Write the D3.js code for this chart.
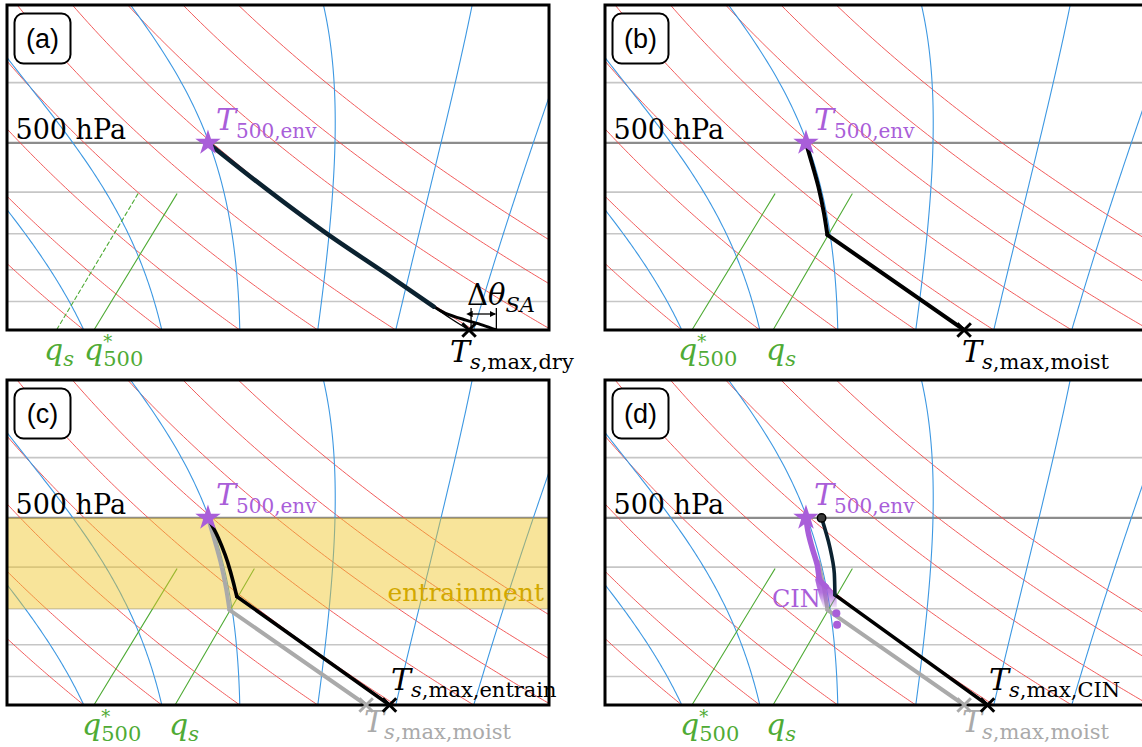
<!DOCTYPE html>
<html lang="en">
<head>
<meta charset="UTF-8">
<title>Skew-T schematic</title>
<style>
  body { margin: 0; background: #fff; }
</style>
</head>
<body>
<div id="chart"></div>
<script src="https://d3js.org/d3.v7.min.js"></script>
<script>
// ---- data (pressure in hPa, temperature in degC) ----
const isobars = [400, 500, 600, 700, 800, 900];
const dryTheta = [-10, 0, 10, 20, 30, 40, 50, 60, 70, 80];   // dry adiabats, T at 1000 hPa
const moistThetaW = [-10, 0, 10, 20, 30, 40, 50];           // moist adiabats, T at 1000 hPa

const qStar500 = [[604, -5.9], [1000, 1.3]];
const qsPanelA = [[604, -10.9], [1000, -3.5]];
const qsOther = [[604, 4.0], [1000, 11.7]];

const envT500 = [500, -8.6];

// (a) dry descent
const dryDescent = [[500, -8.6], [574, 2.3], [698, 18.3], [831, 33.4], [917, 41.8]];
const dryToX = [[917, 41.8], [960, 45.7], [1000, 49.4]];
const surfaceLayer = [[917, 41.8], [940, 44.2], [964, 47.7], [982, 50.5], [1000, 52.9]];
const tsDry = 49.4, tsDrySA = 52.9;

// (b) moist descent, kink where the parcel leaves saturation
const moistProfile = [[500, -8.6], [546, -4.6], [589, -1.2], [650, 3.0], [703, 6.2], [1000, 36.2]];
const moistKink = 703;
const tsMoist = 36.2;

// (c) entraining descent
const entrainProfile = [[500, -8.6], [539, -4.6], [574, -1.5], [669, 5.4], [1000, 39.2]];
const entrainKink = 669;
const entrainBand = [500, 700];
const tsEntrain = 39.2;

// (d) CIN
const cinParcelUpper = [[500, -6.6], [556, -1.8], [614, 2.3], [665, 5.2]];
const cinParcelLower = [[665, 5.2], [1000, 39.2]];
const cinEnv = [[500, -8.6], [529, -6.3], [556, -4.1], [595, -1.0], [629, 1.3], [645, 3.0]];
const cinArea = [[616, 0.2], [640, 2.9], [665, 5.4], [697, 7.1], [697, 5.4], [670, 3.5], [645, 1.8], [629, 0.7]];
const cinDots = [[712, 7.8], [743, 9.4]];
const tsCIN = 39.2;

// ---- layout ----
const W = 1142, H = 747;
const PW = 542, PH = 325;
const panels = [
  { id: "a", ox: 7, oy: 5 },
  { id: "b", ox: 605, oy: 5 },
  { id: "c", ox: 7, oy: 380 },
  { id: "d", ox: 605, oy: 380 }
];

const C = {
  red: "#ef4a4a", blue: "#3d98e2", green: "#4fab35", grid: "#c6c6c6", grid500: "#8c8c8c",
  purple: "#a95ed9", navy: "#0b2230", gray: "#aaaaaa", gold: "#d2a800"
};

const svg = d3.select("#chart").append("svg")
  .attr("width", W).attr("height", H)
  .style("font-family", "DejaVu Serif");

const defs = svg.append("defs");
defs.append("clipPath").attr("id", "clipP")
  .append("rect").attr("width", PW).attr("height", PH);
const grad = defs.append("linearGradient").attr("id", "cinGrad")
  .attr("x1", 0).attr("y1", 0).attr("x2", 0).attr("y2", 1);
grad.append("stop").attr("offset", "0%").attr("stop-color", C.purple).attr("stop-opacity", 1);
grad.append("stop").attr("offset", "55%").attr("stop-color", C.purple).attr("stop-opacity", 0.85);
grad.append("stop").attr("offset", "100%").attr("stop-color", C.purple).attr("stop-opacity", 0.15);
["arrS", "arrE"].forEach((id, i) => {
  defs.append("marker").attr("id", id).attr("viewBox", "0 0 10 10")
    .attr("refX", i ? 9 : 1).attr("refY", 5).attr("markerWidth", 5).attr("markerHeight", 5)
    .attr("orient", "auto-start-reverse")
    .append("path").attr("d", "M0,0L10,5L0,10z").attr("fill", "#000");
});

// scales: linear temperature, log pressure, 45 degree skew
const x = d3.scaleLinear().domain([-9.85, 59.65]).range([0, PW]);
const y = d3.scaleLog().domain([1000, 300]).range([PH, 0]);
const SKEW = 1.022;
const sx = (p, t) => x(t) + SKEW * (PH - y(p));

const line = d3.line().x(d => sx(d[0], d[1])).y(d => y(d[0]));
const smooth = d3.line().x(d => sx(d[0], d[1])).y(d => y(d[0])).curve(d3.curveMonotoneY);
const closed = d3.line().x(d => sx(d[0], d[1])).y(d => y(d[0])).curve(d3.curveLinearClosed);

// diagram background lines
const pLevels = d3.range(1000, 289, -5);
function dryAdiabat(th) {
  return pLevels.map(p => [p, (th + 273.15) * Math.pow(p / 1000, 0.2857) - 273.15]);
}
function moistAdiabat(tw) {
  const Rd = 287.04, Cp = 1005.7, Lv = 2.501e6, eps = 0.622;
  const es = tc => 6.112 * Math.exp(17.67 * tc / (tc + 243.5));
  const f = (p, T) => {
    const e = es(T - 273.15), rs = eps * e / (p - e);
    return (Rd * T + Lv * rs) / (Cp + Lv * Lv * rs * eps / (Rd * T * T)) / p;
  };
  let T = tw + 273.15;
  const out = [[1000, tw]];
  for (let i = 1; i < pLevels.length; i++) {
    const p = pLevels[i - 1], h = pLevels[i] - p;
    const k1 = f(p, T), k2 = f(p + h / 2, T + h / 2 * k1),
      k3 = f(p + h / 2, T + h / 2 * k2), k4 = f(p + h, T + h * k3);
    T += h / 6 * (k1 + 2 * k2 + 2 * k3 + k4);
    out.push([pLevels[i], T - 273.15]);
  }
  return out;
}

function mathText(g, xx, yy, runs, color, anchor) {
  const t = g.append("text").attr("x", xx).attr("y", yy).attr("fill", color)
    .attr("text-anchor", anchor || "start");
  let cur = 0;
  runs.forEach(r => {
    const ts = t.append("tspan").text(r[0]).attr("font-size", r[1])
      .attr("font-style", r[2] ? "italic" : "normal")
      .attr("dy", (r[3] || 0) - cur);
    if (r[4]) ts.attr("dx", r[4]);
    cur = r[3] || 0;
  });
  return t;
}
const Tlab = sub => [["T", 30, true], ["s", 21, true, 7], [sub, 21, false, 7]];
const qsLab = [["q", 30, true], ["s", 21, true, 6]];
const qStarLab = [["q", 30, true], ["*", 18, false, -12], ["500", 21, false, 6, -9]];
const T500Lab = [["T", 30, true], ["500,env", 20, false, 8]];

function xMark(g, p, t, color) {
  g.append("path").attr("d", d3.symbol(d3.symbolX, 120)())
    .attr("transform", `translate(${sx(p, t)},${y(p)})`)
    .attr("stroke", color).attr("stroke-width", 3).attr("fill", "none");
}
function star(g) {
  g.append("path").attr("d", d3.symbol(d3.symbolStar, 200)())
    .attr("transform", `translate(${sx(envT500[0], envT500[1])},${y(envT500[0])})`)
    .attr("fill", C.purple);
}
function path(g, data, color, w, gen) {
  return g.append("path").datum(data).attr("d", gen || smooth)
    .attr("fill", "none").attr("stroke", color).attr("stroke-width", w)
    .attr("stroke-linejoin", "round").attr("stroke-linecap", "round");
}
// curved part above the kink, straight dry part below it
function kinked(g, data, kink, color, w) {
  path(g, data.filter(d => d[0] <= kink), color, w, smooth);
  path(g, data.filter(d => d[0] >= kink), color, w, line);
}

panels.forEach(P => {
  const g = svg.append("g").attr("transform", `translate(${P.ox},${P.oy})`);
  const inner = g.append("g").attr("clip-path", "url(#clipP)");

  inner.selectAll(".iso").data(isobars).join("line")
    .attr("x1", 0).attr("x2", PW).attr("y1", d => y(d)).attr("y2", d => y(d))
    .attr("stroke", d => d === 500 ? C.grid500 : C.grid)
    .attr("stroke-width", d => d === 500 ? 2.2 : 1.6);

  inner.selectAll(".dry").data(dryTheta).join("path")
    .attr("d", d => line(dryAdiabat(d)))
    .attr("fill", "none").attr("stroke", C.red).attr("stroke-width", 0.9);

  inner.selectAll(".moist").data(moistThetaW).join("path")
    .attr("d", d => line(moistAdiabat(d)))
    .attr("fill", "none").attr("stroke", C.blue).attr("stroke-width", 1.1);

  path(inner, qStar500, C.green, 1.1, line);
  if (P.id === "a") path(inner, qsPanelA, C.green, 1.1, line).attr("stroke-dasharray", "4,3");
  else path(inner, qsOther, C.green, 1.1, line);

  if (P.id === "a") {
    path(inner, dryToX, "#000", 1.4);
    path(inner, surfaceLayer, "#000", 3);
    path(inner, dryDescent, C.navy, 4.5);
  }
  if (P.id === "b") {
    kinked(inner, moistProfile, moistKink, "#000", 4);
  }
  if (P.id === "c") {
    inner.append("rect").attr("x", 0).attr("width", PW)
      .attr("y", y(entrainBand[0])).attr("height", y(entrainBand[1]) - y(entrainBand[0]))
      .attr("fill", "#f0c628").attr("opacity", 0.47);
    kinked(inner, moistProfile, moistKink, C.gray, 4);
    kinked(inner, entrainProfile, entrainKink, "#000", 3.6);
    g.append("text").attr("x", 537).attr("y", 221).attr("text-anchor", "end")
      .attr("font-size", 25).attr("fill", C.gold).text("entrainment");
  }
  if (P.id === "d") {
    kinked(inner, moistProfile.filter(d => d[0] >= 589), moistKink, C.gray, 4);
    inner.append("path").datum(cinArea).attr("d", closed).attr("fill", "url(#cinGrad)");
    path(inner, cinEnv, C.purple, 5.5);
    path(inner, cinParcelLower, "#000", 3.6, line);
    path(inner, cinParcelUpper, C.navy, 3.6);
    inner.selectAll(".dot").data(cinDots).join("circle")
      .attr("cx", d => sx(d[0], d[1])).attr("cy", d => y(d[0])).attr("r", 4)
      .attr("fill", C.purple);
    inner.append("circle").attr("cx", sx(cinParcelUpper[0][0], cinParcelUpper[0][1]))
      .attr("cy", y(cinParcelUpper[0][0])).attr("r", 4.2)
      .attr("fill", "#3a3a3a").attr("stroke", "#000").attr("stroke-width", 1.5);
    g.append("text").attr("x", 167).attr("y", 227).attr("font-size", 24)
      .attr("fill", C.purple).text("CIN");
  }

  star(inner);

  // frame
  g.append("rect").attr("width", PW).attr("height", PH)
    .attr("fill", "none").attr("stroke", "#000").attr("stroke-width", 3);

  // panel tag
  g.append("rect").attr("x", 7.5).attr("y", 8.5).attr("width", 56).attr("height", 50)
    .attr("rx", 9).attr("fill", "#fff").attr("stroke", "#000").attr("stroke-width", 2);
  g.append("text").attr("x", 35.5).attr("y", 43).attr("text-anchor", "middle")
    .attr("font-family", "Liberation Sans, Arial, sans-serif").attr("font-size", 27)
    .text(`(${P.id})`);

  // common labels
  g.append("text").attr("x", 8.5).attr("y", 134).attr("font-size", 27).text("500 hPa");
  mathText(g, sx(envT500[0], envT500[1]) + 8, y(envT500[0]) - 13, T500Lab, C.purple);

  if (P.id === "a") {
    mathText(g, 37, 355, qsLab, C.green);
    mathText(g, 77, 355, qStarLab, C.green);
    xMark(g, 1000, tsDry, "#000");
    mathText(g, 443, 357, Tlab(",max,dry"), "#000");
    // delta theta_SA
    const x1 = sx(1000, tsDry) + 2, x2 = sx(1000, tsDrySA);
    [x1, x2].forEach(xx => g.append("line").attr("x1", xx).attr("x2", xx)
      .attr("y1", PH - 22).attr("y2", PH).attr("stroke", "#000").attr("stroke-width", 1.3));
    g.append("line").attr("x1", x1 + 1).attr("x2", x2 - 1).attr("y1", PH - 16).attr("y2", PH - 16)
      .attr("stroke", "#000").attr("stroke-width", 1.3)
      .attr("marker-start", "url(#arrS)").attr("marker-end", "url(#arrE)");
    mathText(g, 460, 300, [["Δ", 29, false], ["θ", 29, true], ["SA", 21, true, 7]], "#000");
  } else {
    mathText(g, P.id === "b" ? 73 : 75, 355, qStarLab, C.green);
    mathText(g, P.id === "c" ? 162 : 161, 355, qsLab, C.green);
  }
  if (P.id === "b") {
    xMark(g, 1000, tsMoist, "#000");
    mathText(g, 357, 357, Tlab(",max,moist"), "#000");
  }
  if (P.id === "c" || P.id === "d") {
    xMark(g, 1000, tsMoist, C.gray);
    mathText(g, 357, 352, Tlab(",max,moist"), C.gray);
    const ts = P.id === "c" ? tsEntrain : tsCIN;
    xMark(g, 1000, ts, "#000");
    mathText(g, 384, 310, Tlab(P.id === "c" ? ",max,entrain" : ",max,CIN"), "#000");
  }
});
</script>
</body>
</html>
